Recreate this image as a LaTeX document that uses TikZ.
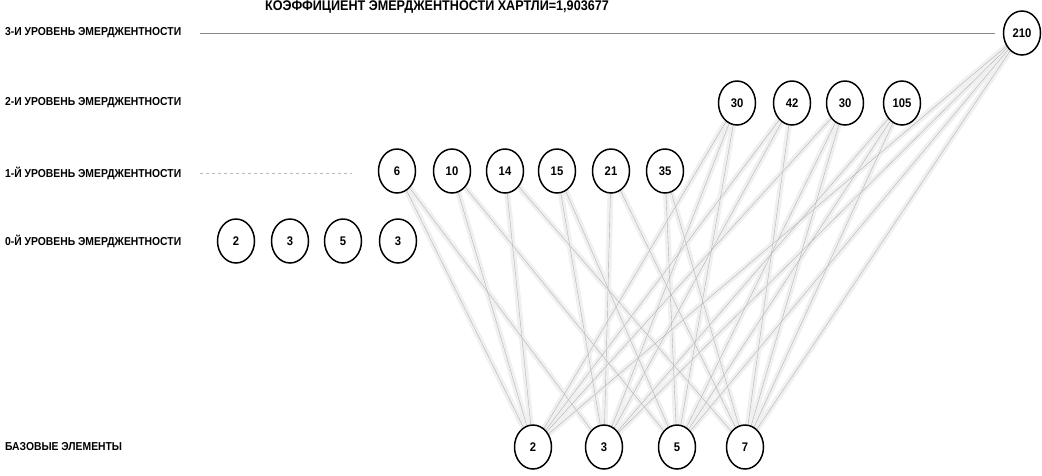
\documentclass[tikz,border=0pt]{standalone}
\usepackage{fontspec}
\setmainfont{Liberation Sans}
\newfontfamily\narrowfont[FakeStretch=0.9]{Liberation Sans}
\usetikzlibrary{shapes.geometric,backgrounds}
\definecolor{linkGray}{HTML}{B4B4B4}
\definecolor{haloGray}{HTML}{F0F0F0}
\definecolor{rowGray}{HTML}{8A8A8A}

\begin{document}
\begin{tikzpicture}[
  x=1pt, y=-1pt,
  font=\narrowfont\bfseries\fontsize{11.5}{13}\selectfont,
  num/.style={draw=black,line width=1.5pt,ellipse,minimum width=37pt,minimum height=44pt,inner sep=0pt,fill=white,
    text height=9pt,text depth=0pt,font=\narrowfont\bfseries\fontsize{12.5}{14}\selectfont},
  lvl/.style={anchor=west,inner sep=0pt},
  halo/.style={draw=haloGray,line width=6pt},
  link/.style={draw=linkGray,line width=0.4pt}
]
  \useasboundingbox (0,0) rectangle (1042,475);

  \node[inner sep=0pt,font=\narrowfont\bfseries\fontsize{14}{16}\selectfont] (title) at (437,7.5) {КОЭФФИЦИЕНТ ЭМЕРДЖЕНТНОСТИ ХАРТЛИ=1,903677};

  % level captions
  \node[lvl] (l3) at (5,33) {3-И УРОВЕНЬ ЭМЕРДЖЕНТНОСТИ};
  \node[lvl] (l2) at (5,103) {2-И УРОВЕНЬ ЭМЕРДЖЕНТНОСТИ};
  \node[lvl] (l1) at (5,173) {1-Й УРОВЕНЬ ЭМЕРДЖЕНТНОСТИ};
  \node[lvl] (l0) at (5,241) {0-Й УРОВЕНЬ ЭМЕРДЖЕНТНОСТИ};
  \node[lvl] (lb) at (5,447) {БАЗОВЫЕ ЭЛЕМЕНТЫ};

  \coordinate (r3a) at (200,33);
  \coordinate (r3b) at (995,33);
  \coordinate (r1a) at (200,173);
  \coordinate (r1b) at (352,173);
  \draw[rowGray,line width=0.8pt] (r3a) -- (r3b);
  \draw[rowGray!60,line width=0.4pt,dashed] (r1a) -- (r1b);

  % base elements
  \foreach \n/\x/\t in {b2/533/2,b3/604/3,b5/677/5,b7/745/7}
    \node[num] (\n) at (\x,447) {\t};

  % level 0
  \foreach \n/\x/\t in {z2/236/2,z3/290/3,z5/343/5,z7/398/3}
    \node[num] (\n) at (\x,241) {\t};

  % level 1
  \foreach \n/\x/\t in {n6/397/6,n10/452/10,n14/505/14,n15/557/15,n21/611/21,n35/665/35}
    \node[num] (\n) at (\x,171) {\t};

  % level 2
  \foreach \n/\x/\t in {n30/737/30,n42/792/42,n30b/845/30,n105/902/105}
    \node[num] (\n) at (\x,103) {\t};

  % level 3
  \node[num] (n210) at (1022,33) {210};

  \def\links{n6/b2,n6/b3,n10/b2,n10/b5,n14/b2,n14/b7,n15/b3,n15/b5,n21/b3,n21/b7,n35/b5,n35/b7,
    n30/b2,n30/b3,n30/b5,n42/b2,n42/b3,n42/b7,n30b/b2,n30b/b5,n30b/b7,n105/b3,n105/b5,n105/b7,
    n210/b2,n210/b3,n210/b5,n210/b7}
  \begin{pgfonlayer}{background}
    \foreach \a/\b in \links
      \path[halo] (\a) -- (\b);
    \foreach \a/\b in \links
      \path[link] (\a) -- (\b);
  \end{pgfonlayer}
\end{tikzpicture}
\end{document}
